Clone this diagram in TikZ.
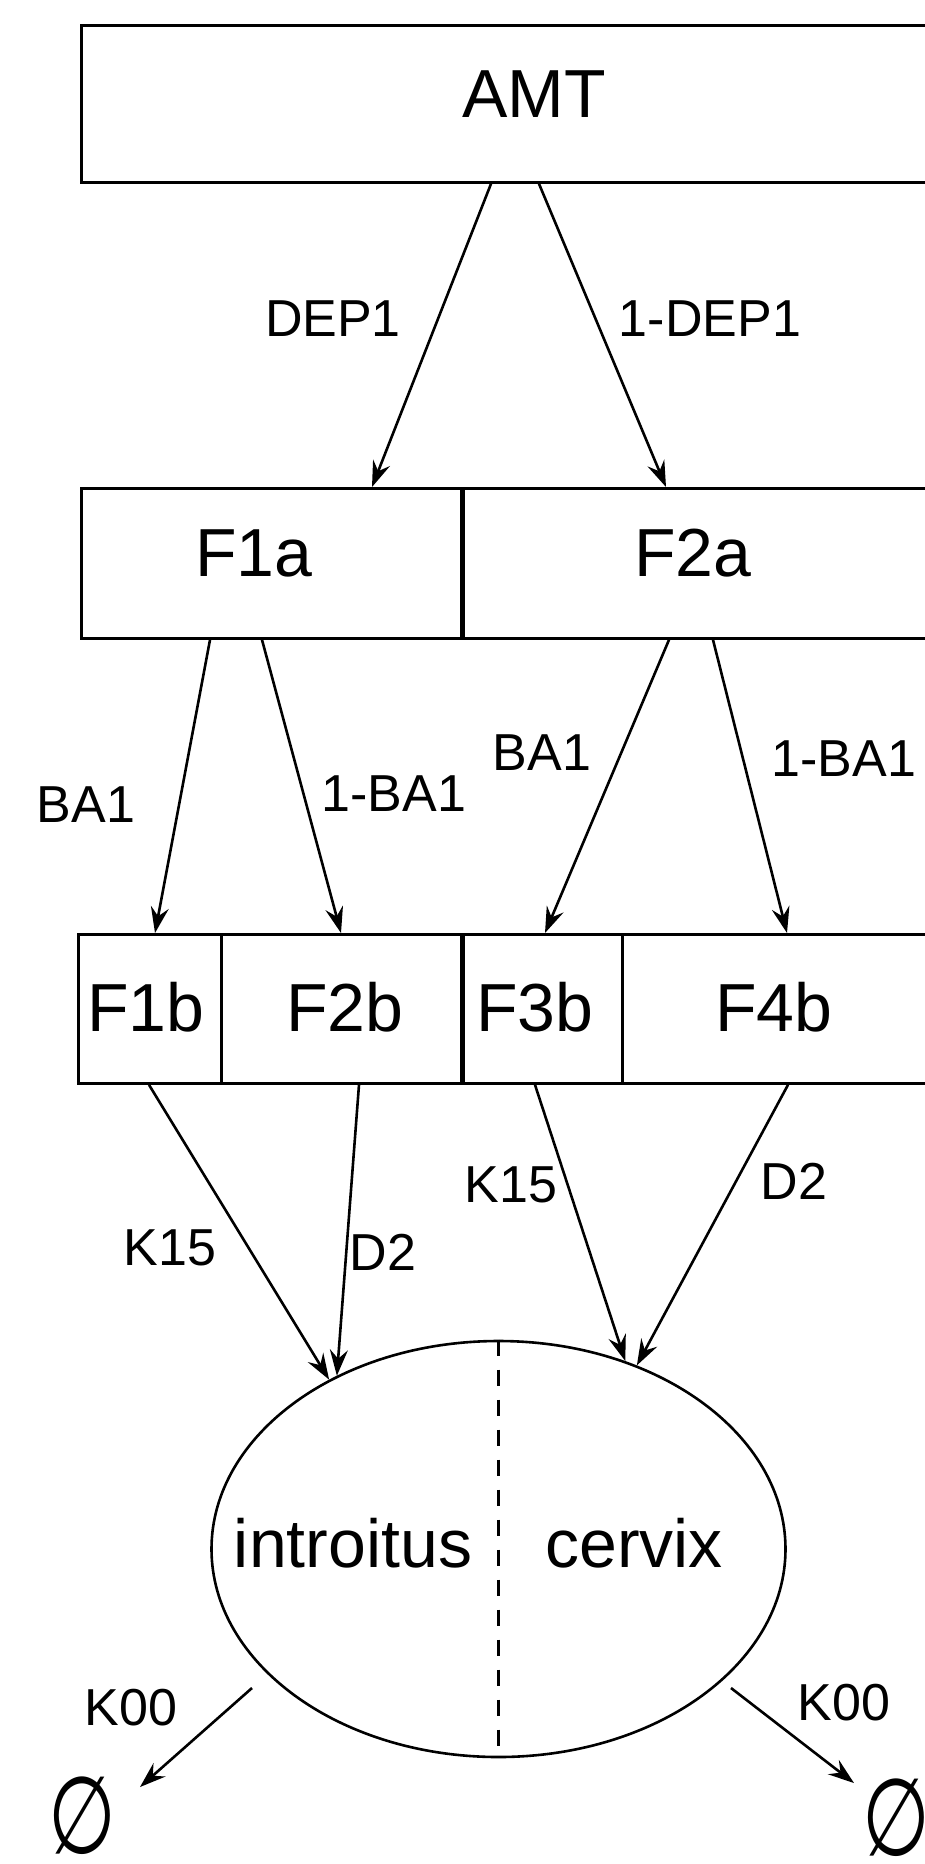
\documentclass[tikz,border=0pt]{standalone}
\usepackage{fontspec}
\usepackage{graphicx}
\setmainfont{Liberation Sans}
\newfontfamily\dejavu{DejaVu Sans}
\usetikzlibrary{arrows.meta,shapes.geometric}
\tikzset{
  box/.style={draw,line width=1.4pt,inner sep=0pt,anchor=north west},
  bigtxt/.style={inner sep=0pt,font=\fontsize{34}{34}\selectfont},
  lbl/.style={inner sep=0pt,font=\fontsize{26}{26}\selectfont},
  arr/.style={line width=1.3pt,-{Stealth[length=13pt,width=9pt,inset=4.5pt]}},
  thickdiv/.style={line width=2.6pt},
  nul/.style={inner sep=0pt,font=\dejavu\fontsize{54}{54}\selectfont}
}
\begin{document}
\begin{tikzpicture}[x=0.5pt,y=-0.5pt]
\useasboundingbox (0,0) rectangle (925,1864);
\clip (0,0) rectangle (925,1864);
% boxes
\node[box,minimum width=437pt,minimum height=78.5pt] (amt) at (80,24) {};
\node[box,minimum width=190pt,minimum height=75pt] (f1a) at (80,487) {};
\node[box,minimum width=240pt,minimum height=75pt] (f2a) at (460,487) {};
\node[box,minimum width=71.5pt,minimum height=74.5pt] (f1b) at (77,933) {};
\node[box,minimum width=120pt,minimum height=74.5pt] (f2b) at (220,933) {};
\node[box,minimum width=80.5pt,minimum height=74.5pt] (f3b) at (460,933) {};
\node[box,minimum width=165pt,minimum height=74.5pt] (f4b) at (621,933) {};
\draw[thickdiv] (f1a.north east) -- (f1a.south east);
\draw[thickdiv] (f2b.north east) -- (f2b.south east);
% box texts
\node[bigtxt] (tamt) at (534,94) {AMT};
\node[bigtxt] (tf1a) at (254,553) {F1a};
\node[bigtxt] (tf2a) at (693,553) {F2a};
\node[bigtxt] (tf1b) at (146,1007) {F1b};
\node[bigtxt] (tf2b) at (345,1007) {F2b};
\node[bigtxt] (tf3b) at (535,1007) {F3b};
\node[bigtxt] (tf4b) at (774,1007) {F4b};
% ellipse
\node[ellipse,draw,line width=1.3pt,inner sep=0pt,minimum width=287pt,minimum height=208pt] (ell) at (498.5,1549) {};
\draw[line width=1.1pt,dash pattern=on 8pt off 7pt] (ell.north) -- (ell.south);
\node[bigtxt] (tin) at (353,1543) {introitus};
\node[bigtxt] (tce) at (634,1543) {cervix};
% arrows
\draw[arr] ([xshift=205.5pt]amt.south west) -- ([xshift=146pt]f1a.north west);
\draw[arr] ([xshift=229.5pt]amt.south west) -- ([xshift=103pt]f2a.north west);
\draw[arr] ([xshift=65pt]f1a.south west) -- ([xshift=39pt]f1b.north west);
\draw[arr] ([xshift=91pt]f1a.south west) -- ([xshift=60.5pt]f2b.north west);
\draw[arr] ([xshift=104.5pt]f2a.south west) -- ([xshift=42.5pt]f3b.north west);
\draw[arr] ([xshift=126.5pt]f2a.south west) -- ([xshift=83pt]f4b.north west);
\draw[arr] ([xshift=36pt]f1b.south west) -- (ell.135);
\draw[arr] ([xshift=69.5pt]f2b.south west) -- (ell.133);
\draw[arr] ([xshift=37.5pt]f3b.south west) -- (ell.56);
\draw[arr] ([xshift=83.5pt]f4b.south west) -- (ell.53);
% labels
\node[lbl] (l1) at (333,319) {DEP1};
\node[lbl] (l2) at (710,319) {1-DEP1};
\node[lbl] (l3) at (86,805) {BA1};
\node[lbl] (l4) at (394,794) {1-BA1};
\node[lbl] (l5) at (542,753) {BA1};
\node[lbl] (l6) at (844,759) {1-BA1};
\node[lbl] (l7) at (170,1248) {K15};
\node[lbl] (l8) at (383,1252) {D2};
\node[lbl] (l9) at (511,1185) {K15};
\node[lbl] (l10) at (794,1181) {D2};
\node[lbl] (l11) at (131,1708) {K00};
\node[lbl] (l12) at (844,1703) {K00};
% empty sets
\node[nul] (nl) at (82,1816) {\scalebox{0.72}[1]{∅}};
\node[nul] (nr) at (896,1818) {\scalebox{0.72}[1]{∅}};
\coordinate (k0ls) at (252,1688);
\coordinate (k0le) at (140,1787);
\coordinate (k0rs) at (731,1688);
\coordinate (k0re) at (854,1783);
\draw[arr] (k0ls) -- (k0le);
\draw[arr] (k0rs) -- (k0re);
\end{tikzpicture}
\end{document}
